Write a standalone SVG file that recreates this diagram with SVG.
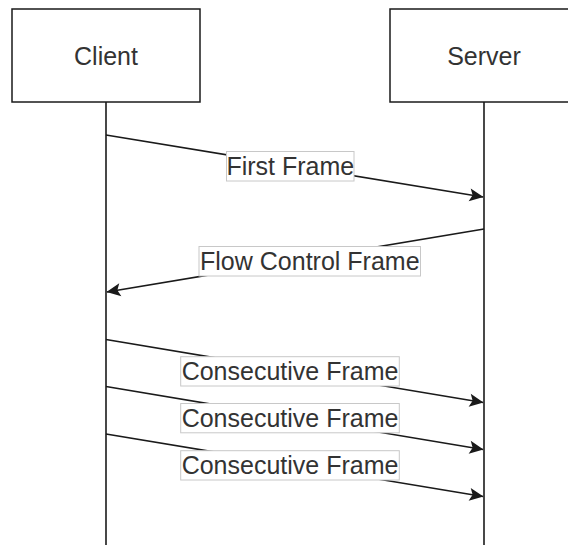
<svg xmlns="http://www.w3.org/2000/svg" width="568" height="545" viewBox="0 0 568 545">
  <style>
    .box { fill: #ffffff; stroke: #1a1a1a; stroke-width: 1.5; }
    .life { stroke: #1a1a1a; stroke-width: 1.6; fill: none; }
    .msg { stroke: #1a1a1a; stroke-width: 1.6; fill: none; marker-end: url(#arrow); }
    .lbl { fill: #ffffff; stroke: #c8c8c8; stroke-width: 1; }
    .txt { font-family: "Liberation Sans", Arial, Helvetica, sans-serif; font-size: 25px; fill: #333333; text-anchor: middle; }
  </style>
  <defs>
    <marker id="arrow" markerUnits="userSpaceOnUse" markerWidth="16" markerHeight="14" refX="14" refY="7" orient="auto" viewBox="0 0 16 14">
      <path d="M14.5,7 L0.5,0.5 L3.5,7 L0.5,13.5 Z" fill="#1a1a1a"/>
    </marker>
  </defs>

  <rect width="568" height="545" fill="#ffffff"/>

  <!-- participants with lifelines -->
  <g id="client">
    <rect class="box" x="12" y="9" width="188" height="93"/>
    <text class="txt" x="106" y="65">Client</text>
    <line class="life" x1="106" y1="102" x2="106" y2="545"/>
  </g>
  <g id="server">
    <rect class="box" x="390" y="9" width="188" height="93"/>
    <text class="txt" x="484" y="65">Server</text>
    <line class="life" x1="484" y1="102" x2="484" y2="545"/>
  </g>

  <!-- messages -->
  <g id="connectors">
    <line class="msg" x1="106" y1="135" x2="483" y2="197"/>
    <line class="msg" x1="484" y1="229" x2="107" y2="292"/>
    <line class="msg" x1="106" y1="339.5" x2="483" y2="402.5"/>
    <line class="msg" x1="106" y1="386.5" x2="483" y2="449.5"/>
    <line class="msg" x1="106" y1="434" x2="483" y2="496.5"/>
  </g>

  <!-- message labels -->
  <g id="label-first-frame">
    <rect class="lbl" x="226.5" y="151.5" width="127.5" height="29.5"/>
    <text class="txt" x="290.3" y="175">First Frame</text>
  </g>
  <g id="label-flow-control">
    <rect class="lbl" x="199" y="246.5" width="221.5" height="29.5"/>
    <text class="txt" x="309.8" y="270">Flow Control Frame</text>
  </g>
  <g id="label-consecutive-1">
    <rect class="lbl" x="180.7" y="356.7" width="218.6" height="29.3"/>
    <text class="txt" x="290" y="380">Consecutive Frame</text>
  </g>
  <g id="label-consecutive-2">
    <rect class="lbl" x="180.7" y="403.5" width="218.6" height="29.3"/>
    <text class="txt" x="290" y="427">Consecutive Frame</text>
  </g>
  <g id="label-consecutive-3">
    <rect class="lbl" x="180.7" y="450.7" width="218.6" height="29.3"/>
    <text class="txt" x="290" y="474">Consecutive Frame</text>
  </g>
</svg>
